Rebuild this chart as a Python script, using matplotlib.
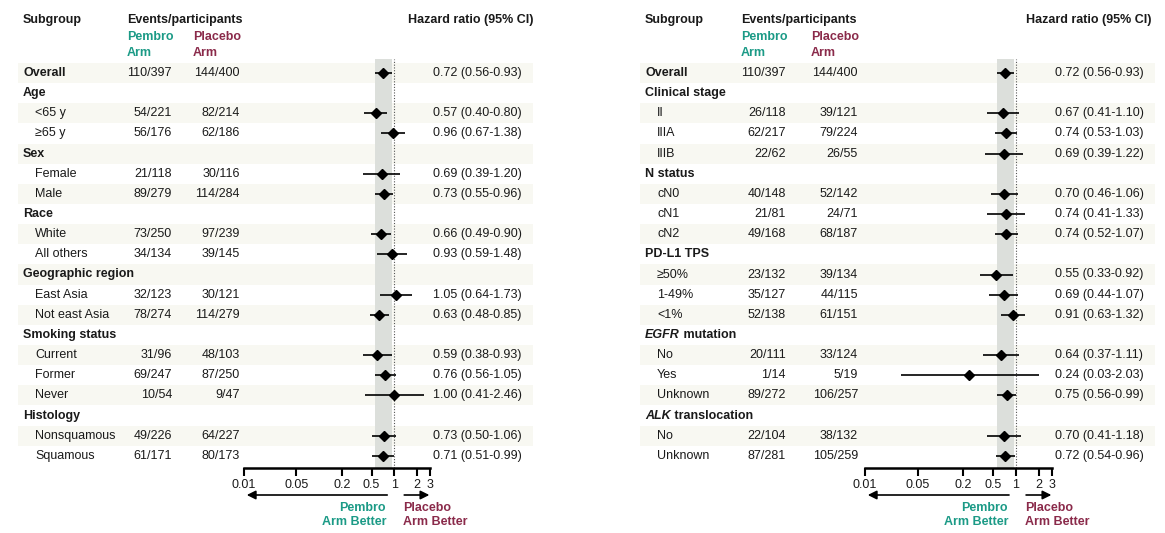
import numpy as np
import matplotlib
matplotlib.use("Agg")
import matplotlib.pyplot as plt
from matplotlib.patches import Rectangle

plt.rcParams['font.family'] = ['Liberation Sans', 'DejaVu Sans']

nan = np.nan

# ---- left panel data ----
labels_l = ["Overall", "Age", "<65 y", "\u226565 y", "Sex", "Female", "Male", "Race", "White",
            "All others", "Geographic region", "East Asia", "Not east Asia", "Smoking status",
            "Current", "Former", "Never", "Histology", "Nonsquamous", "Squamous"]
pembro_l = ["110/397", "", "54/221", "56/176", "", "21/118", "89/279", "", "73/250", "34/134",
            "", "32/123", "78/274", "", "31/96", "69/247", "10/54", "", "49/226", "61/171"]
placebo_l = ["144/400", "", "82/214", "62/186", "", "30/116", "114/284", "", "97/239", "39/145",
             "", "30/121", "114/279", "", "48/103", "87/250", "9/47", "", "64/227", "80/173"]
hr_l = [0.72, nan, 0.57, 0.96, nan, 0.69, 0.73, nan, 0.66, 0.93,
        nan, 1.05, 0.63, nan, 0.59, 0.76, 1.00, nan, 0.73, 0.71]
lo_l = [0.56, nan, 0.40, 0.67, nan, 0.39, 0.55, nan, 0.49, 0.59,
        nan, 0.64, 0.48, nan, 0.38, 0.56, 0.41, nan, 0.50, 0.51]
hi_l = [0.93, nan, 0.80, 1.38, nan, 1.20, 0.96, nan, 0.90, 1.48,
        nan, 1.73, 0.85, nan, 0.93, 1.05, 2.46, nan, 1.06, 0.99]

# ---- right panel data ----
labels_r = ["Overall", "Clinical stage", "II", "IIIA", "IIIB", "N status", "cN0", "cN1", "cN2",
            "PD-L1 TPS", "\u226550%", "1-49%", "<1%", "EGFR mutation", "No", "Yes", "Unknown",
            "ALK translocation", "No", "Unknown"]
pembro_r = ["110/397", "", "26/118", "62/217", "22/62", "", "40/148", "21/81", "49/168", "",
            "23/132", "35/127", "52/138", "", "20/111", "1/14", "89/272", "", "22/104", "87/281"]
placebo_r = ["144/400", "", "39/121", "79/224", "26/55", "", "52/142", "24/71", "68/187", "",
             "39/134", "44/115", "61/151", "", "33/124", "5/19", "106/257", "", "38/132", "105/259"]
hr_r = [0.72, nan, 0.67, 0.74, 0.69, nan, 0.70, 0.74, 0.74, nan,
        0.55, 0.69, 0.91, nan, 0.64, 0.24, 0.75, nan, 0.70, 0.72]
lo_r = [0.56, nan, 0.41, 0.53, 0.39, nan, 0.46, 0.41, 0.52, nan,
        0.33, 0.44, 0.63, nan, 0.37, 0.03, 0.56, nan, 0.41, 0.54]
hi_r = [0.93, nan, 1.10, 1.03, 1.22, nan, 1.06, 1.33, 1.07, nan,
        0.92, 1.07, 1.32, nan, 1.11, 2.03, 0.99, nan, 1.18, 0.96]

italic_words = ["EGFR", "ALK"]
xticks = [0.01, 0.05, 0.2, 0.5, 1, 2, 3]
xticklabels = ["0.01", "0.05", "0.2", "0.5", "1", "2", "3"]

TEAL = "#1b9a86"
MAROON = "#8a2a4a"
SHADE = "#f8f8f2"
BAND = "#dcdfdb"
TXT = "#1a1a1a"

W, H = 1165, 533
Y0, ROW_H = 73, 20.15
AX_TOP, AX_BOT = 59, 468
FS = 9

fig = plt.figure(figsize=(W / 100, H / 100), dpi=100)
bg = fig.add_axes([0, 0, 1, 1])
bg.set_xlim(0, W)
bg.set_ylim(H, 0)
bg.axis("off")


def panel(labels, pembro, placebo, hr, lo, hi, c):
    # c: column positions in pixels for this panel
    n = len(labels)
    ys = Y0 + ROW_H * np.arange(n)

    # alternate row shading
    for i in range(0, n, 2):
        bg.add_patch(Rectangle((c["shade0"], ys[i] - ROW_H / 2), c["shade1"] - c["shade0"], ROW_H,
                               color=SHADE, lw=0, zorder=0))

    # headers
    bg.text(c["sub"], 20, "Subgroup", fontsize=FS, fontweight="bold", color=TXT, va="center")
    bg.text(c["pem"], 20, "Events/participants", fontsize=FS, fontweight="bold", color=TXT, va="center")
    bg.text(c["pem"], 37, "Pembro", fontsize=FS, fontweight="bold", color=TEAL, va="center")
    bg.text(c["pem"], 53, "Arm", fontsize=FS, fontweight="bold", color=TEAL, va="center")
    bg.text(c["pla"], 37, "Placebo", fontsize=FS, fontweight="bold", color=MAROON, va="center")
    bg.text(c["pla"], 53, "Arm", fontsize=FS, fontweight="bold", color=MAROON, va="center")
    bg.text(c["hrh"], 20, "Hazard ratio (95% CI)", fontsize=FS, fontweight="bold", color=TXT,
            va="center", ha="right")

    for i in range(n):
        head = i == 0 or pembro[i] == ""
        lab = labels[i]
        if head:
            first = lab.split(" ")[0]
            if first in italic_words:
                t = bg.text(c["sub"], ys[i], first, fontsize=FS, fontweight="bold", style="italic",
                            color=TXT, va="center")
                bg.annotate(lab[len(first):], xy=(1, 0.5), xycoords=t, fontsize=FS,
                            fontweight="bold", color=TXT, va="center", ha="left")
            else:
                bg.text(c["sub"], ys[i], lab, fontsize=FS, fontweight="bold", color=TXT, va="center")
        else:
            bg.text(c["sub"] + 12, ys[i], lab, fontsize=FS, color=TXT, va="center")
        if pembro[i]:
            bg.text(c["pemr"], ys[i], pembro[i], fontsize=FS, color=TXT, va="center", ha="right")
            bg.text(c["plar"], ys[i], placebo[i], fontsize=FS, color=TXT, va="center", ha="right")
        if not np.isnan(hr[i]):
            bg.text(c["hrv"], ys[i], "%.2f (%.2f-%.2f)" % (hr[i], lo[i], hi[i]),
                    fontsize=FS, color=TXT, va="center")

    # forest axes
    ax = fig.add_axes([c["ax0"] / W, 1 - AX_BOT / H, (c["ax1"] - c["ax0"]) / W, (AX_BOT - AX_TOP) / H])
    ax.patch.set_alpha(0)
    ax.set_xscale("log")
    ax.set_xlim(0.01, 3)
    ax.set_ylim(AX_BOT, AX_TOP)
    ax.axvspan(lo[0], hi[0], color=BAND, lw=0, zorder=0)
    ax.axvline(1, color="#555555", ls=(0, (1, 1.5)), lw=0.8, zorder=1)
    hr_a, lo_a, hi_a = np.array(hr), np.array(lo), np.array(hi)
    ok = ~np.isnan(hr_a)
    ax.hlines(ys[ok], lo_a[ok], hi_a[ok], color="black", lw=1.2, zorder=2)
    ax.plot(hr_a[ok], ys[ok], "D", color="black", ms=5.5, zorder=3)
    for s in ["left", "right", "top"]:
        ax.spines[s].set_visible(False)
    ax.spines["bottom"].set_linewidth(1.8)
    ax.set_yticks([])
    ax.set_xticks(xticks)
    ax.set_xticklabels(xticklabels)
    ax.xaxis.set_minor_locator(matplotlib.ticker.NullLocator())
    ax.tick_params(axis="x", direction="out", length=6, width=1.5, labelsize=FS, pad=2,
                   labelcolor=TXT)

    # direction arrows
    ya = -27 / (AX_BOT - AX_TOP)
    ax.annotate("", xy=(0.01, ya), xytext=(0.88, ya),
                xycoords=ax.get_xaxis_transform(),
                arrowprops=dict(arrowstyle="-|>", color="black", lw=1.2, mutation_scale=13))
    ax.annotate("", xy=(3.2, ya), xytext=(1.25, ya),
                xycoords=ax.get_xaxis_transform(), annotation_clip=False,
                arrowprops=dict(arrowstyle="-|>", color="black", lw=1.2, mutation_scale=13))
    bg.text(c["ax1"] - 44, 515, "Pembro\nArm Better", fontsize=FS, fontweight="bold", color=TEAL,
            ha="right", va="center", linespacing=1.25)
    bg.text(c["ax1"] - 27, 515, "Placebo\nArm Better", fontsize=FS, fontweight="bold", color=MAROON,
            ha="left", va="center", linespacing=1.25)


cols_l = dict(shade0=18, shade1=533, sub=23, pem=127, pemr=172, pla=193, plar=240,
              ax0=244, ax1=430, hrv=433, hrh=533)
cols_r = dict(shade0=640, shade1=1155, sub=645, pem=741, pemr=786, pla=811, plar=858,
              ax0=865, ax1=1052, hrv=1055, hrh=1152)

panel(labels_l, pembro_l, placebo_l, hr_l, lo_l, hi_l, cols_l)
panel(labels_r, pembro_r, placebo_r, hr_r, lo_r, hi_r, cols_r)

fig.savefig("out.png", dpi=100, facecolor="white")
